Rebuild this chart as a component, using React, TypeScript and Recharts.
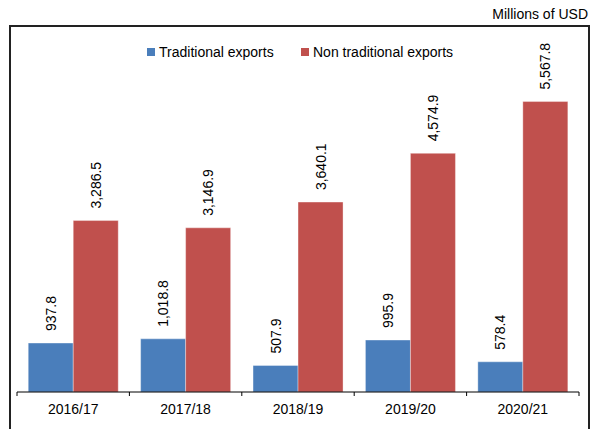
import React from 'react';
import { BarChart, Bar, XAxis, YAxis, Legend, LabelList } from 'recharts';

const categories = ['2016/17', '2017/18', '2018/19', '2019/20', '2020/21'];
const traditional = [937.8, 1018.8, 507.9, 995.9, 578.4];
const nonTraditional = [3286.5, 3146.9, 3640.1, 4574.9, 5567.8];
const seriesNames = ['Traditional exports', 'Non traditional exports'];
const seriesColors = ['#4A7EBB', '#C0504D'];
const unitLabel = 'Millions of USD';

const data = categories.map((c, i) => ({
  category: c,
  traditional: traditional[i],
  nonTraditional: nonTraditional[i],
}));

const FONT = '"Liberation Sans", Arial, Helvetica, sans-serif';
const W = 592;
const H = 429;
const LEGEND_H = 16;
const margin = { top: 79 - LEGEND_H, right: 13, bottom: 36, left: 17 };
const band = (W - margin.left - margin.right) / categories.length;

const fmt = (v: number) =>
  v.toLocaleString('en-US', { minimumFractionDigits: 1, maximumFractionDigits: 1 });

const ValueLabel = (props: any) => {
  const { x, y, width, value } = props;
  const cx = Number(x) + Number(width) / 2;
  const ty = Number(y) - 12;
  return (
    <text
      x={cx}
      y={ty}
      transform={`rotate(-90, ${cx}, ${ty})`}
      textAnchor="start"
      dominantBaseline="central"
      fontSize={14}
      fontFamily={FONT}
      fill="#000"
    >
      {fmt(Number(value))}
    </text>
  );
};

const CategoryTick = (props: any) => {
  const { x, y, payload, index } = props;
  const half = payload && payload.offset ? payload.offset : band / 2;
  const last = index === categories.length - 1;
  return (
    <g>
      <line x1={x - half} x2={x - half} y1={y} y2={y + 4} stroke="#000" strokeWidth={1} />
      {last && <line x1={x + half} x2={x + half} y1={y} y2={y + 4} stroke="#000" strokeWidth={1} />}
      <text x={x} y={y + 17} textAnchor="middle" dominantBaseline="central" fontSize={14} fontFamily={FONT} fill="#000">
        {payload.value}
      </text>
    </g>
  );
};

const LegendContent = () => {
  const positions = [147, 301];
  return (
    <div style={{ position: 'relative', width: W, height: LEGEND_H, fontFamily: FONT, fontSize: 14 }}>
      {seriesNames.map((n, i) => (
        <div key={n} style={{ position: 'absolute', left: positions[i], top: 0, display: 'flex', alignItems: 'center', height: LEGEND_H, whiteSpace: 'nowrap', color: '#000' }}>
          <span style={{ display: 'inline-block', width: 8, height: 8, background: seriesColors[i], marginRight: 4 }} />
          <span>{n}</span>
        </div>
      ))}
    </div>
  );
};

export default function App() {
  return (
    <div style={{ position: 'absolute', left: 0, top: 0, width: W, height: H, overflow: 'hidden', background: '#fff' }}>
      <div
        style={{
          position: 'absolute',
          left: 9,
          top: 25,
          width: 577,
          height: 410,
          borderTop: '2px solid #222',
          borderLeft: '2px solid #222',
          borderRight: '2px solid #222',
        }}
      />
      <div
        style={{
          position: 'absolute',
          right: 592 - 588,
          top: 6,
          fontFamily: FONT,
          fontSize: 14,
          lineHeight: '16px',
          color: '#000',
          whiteSpace: 'nowrap',
        }}
      >
        {unitLabel}
      </div>
      <div style={{ position: 'absolute', left: 0, top: 0 }}>
        <BarChart width={W} height={H} data={data} margin={margin} barCategoryGap="10%" barGap={0}>
          <XAxis
            dataKey="category"
            height={1}
            axisLine={{ stroke: '#000', strokeWidth: 1 }}
            tickLine={false}
            tickSize={0}
            tickMargin={0}
            tick={<CategoryTick />}
            interval={0}
          />
          <YAxis hide domain={[0, 6000]} />
          <Legend
            verticalAlign="top"
            height={LEGEND_H}
            wrapperStyle={{ position: 'absolute', left: 0, top: 44, width: W, height: LEGEND_H }}
            content={<LegendContent />}
          />
          <Bar dataKey="traditional" name={seriesNames[0]} fill={seriesColors[0]} stroke="rgba(255,255,255,0.35)" strokeWidth={1} isAnimationActive={false}>
            <LabelList dataKey="traditional" content={<ValueLabel />} />
          </Bar>
          <Bar dataKey="nonTraditional" name={seriesNames[1]} fill={seriesColors[1]} stroke="rgba(255,255,255,0.35)" strokeWidth={1} isAnimationActive={false}>
            <LabelList dataKey="nonTraditional" content={<ValueLabel />} />
          </Bar>
        </BarChart>
      </div>
    </div>
  );
}
